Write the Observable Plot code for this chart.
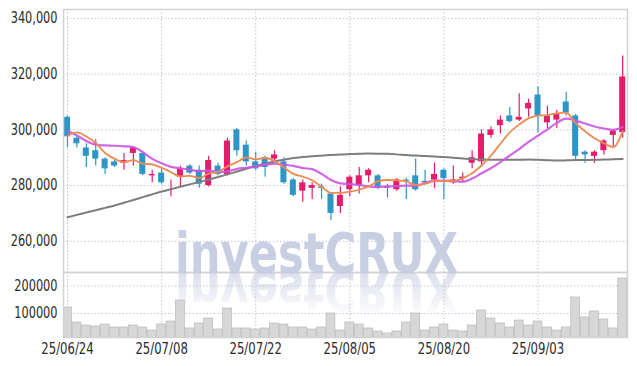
<!DOCTYPE html>
<html><head><meta charset="utf-8">
<script src="https://cdn.jsdelivr.net/npm/d3@7"></script>
<script src="https://cdn.jsdelivr.net/npm/@observablehq/plot@0.6"></script>
<style>
html,body{margin:0;padding:0;background:#fff;}
#wrap{position:relative;width:637px;height:366px;overflow:hidden;}
#wrap > svg{position:absolute;left:0;}
</style></head><body><div id="wrap"></div>
<script>
const dates = ["25/06/24","25/06/25","25/06/26","25/06/27","25/06/30","25/07/01","25/07/02","25/07/03","25/07/04","25/07/07",
"25/07/08","25/07/09","25/07/10","25/07/11","25/07/14","25/07/15","25/07/16","25/07/17","25/07/18","25/07/21",
"25/07/22","25/07/23","25/07/24","25/07/25","25/07/28","25/07/29","25/07/30","25/07/31","25/08/01","25/08/04",
"25/08/05","25/08/06","25/08/07","25/08/08","25/08/11","25/08/12","25/08/13","25/08/14","25/08/18","25/08/19",
"25/08/20","25/08/21","25/08/22","25/08/25","25/08/26","25/08/27","25/08/28","25/08/29","25/09/01","25/09/02",
"25/09/03","25/09/04","25/09/05","25/09/08","25/09/09","25/09/10","25/09/11","25/09/12","25/09/15","25/09/16"];
const open = [304500,297000,293500,292500,289500,288500,288000,291500,291500,283500,
284500,281500,283000,287000,285500,280000,287000,284000,300000,294500,
288500,290000,289500,288500,282000,278000,279000,279500,277000,272500,
278500,280000,283500,283500,279500,278500,282000,283500,281500,282000,
285500,281000,282500,288000,288500,298000,301500,305000,303500,307500,
312500,302500,303500,310000,305000,292000,290500,292500,298000,299000];
const high = [305000,297500,295000,296500,290000,289000,291500,294000,292000,285500,
286000,282000,287000,287500,287000,290500,288000,297000,300500,296000,
292000,290500,292500,290000,282500,282000,281000,280500,277500,279500,
283500,286500,286000,284000,280500,282500,282500,289500,285500,288000,
286000,287000,284500,292500,300000,301000,305000,308000,313000,311000,
315500,308500,307000,313500,305500,292500,292500,296500,300000,326500];
const low = [293500,293500,286500,287000,284000,286500,285500,287000,283500,281000,
280500,276000,279500,284000,279000,279500,283500,283500,290500,287000,
285500,283000,288500,280500,276000,274000,275000,275000,267500,270000,
276000,277000,281000,278500,275500,278000,275000,278000,280500,279000,
275000,280500,281000,286000,286500,297000,298500,302500,303000,304500,
299000,300500,300500,305000,289000,288000,288000,291000,294000,297000];
const close = [297500,295000,290500,289500,286000,287000,289000,293500,284000,284000,
281000,281500,286000,284500,280500,289000,284000,296000,292500,288500,
286000,286500,291000,281000,276500,281000,280000,279000,270000,276500,
283000,283500,285500,279000,279000,282000,281500,278500,281000,284000,
282500,282000,283000,290000,298500,300000,303500,303000,304500,309500,
305000,305000,305500,306000,290500,291000,292000,296000,299500,319000];
const volume = [121700,67400,56500,52900,60100,49300,49300,56500,49300,38400,
60100,71000,147100,45700,63800,81900,42000,118100,45700,45700,
42000,45700,63800,60100,49300,49300,42000,49300,100000,38400,
67400,60100,45700,34800,27500,34800,67400,100000,38400,49300,
60100,38400,34800,56500,110900,81900,63800,49300,74600,56500,
71000,49300,38400,49300,158000,85500,107200,78300,45700,226800];
const ma5 = [297900,299100,297600,295300,291700,289600,288500,289100,287900,287600,
286400,284800,283300,283500,282700,284300,284900,286900,288400,290100,
289400,289900,288800,286500,284200,283200,281900,279600,277400,277400,
277800,278500,279700,281500,282000,281900,281500,280200,280600,281600,
281600,281700,282600,284400,287200,290700,295000,299100,301900,304100,
305100,305300,305900,306200,302400,299500,297000,295200,293800,299600];
const ma10 = [299600,298000,296000,294700,294400,294300,294100,293800,292000,289600,
288000,286700,286200,285700,285100,285400,284900,285100,286000,286400,
286900,287400,287900,287500,287100,286300,285900,284200,282000,280800,
280500,280200,279700,279500,279700,279800,280000,279900,281000,281800,
281800,281600,281400,282500,284400,286200,288400,290800,293100,295700,
297900,300200,302500,304000,303300,302300,301200,300500,300000,301000];
const ma60 = [268620,269490,270310,271170,272000,272820,273830,274830,275840,276840,
277850,278710,279570,280430,281260,282160,283060,284020,285030,286030,
287000,287830,288620,289270,289880,290240,290520,290740,290950,291130,
291310,291420,291490,291460,291380,291200,290950,290770,290590,290420,
290240,289980,289700,289520,289340,289270,289230,289230,289230,289340,
289230,289120,288980,289050,289160,289200,289230,289340,289410,289520];
const xTicks = [0,10,20,30,40,50];
const priceTicks = [260000,280000,300000,320000,340000];
const volumeTicks = [100000,200000];
const watermark = "investCRUX";

const UP = "#e31c6c", DOWN = "#2e95c7";
const rows = dates.map((d,i)=>({i, date:d, open:open[i], high:high[i], low:low[i], close:close[i],
  volume:volume[i], ma5:ma5[i], ma10:ma10[i], ma60:ma60[i], col: close[i]>=open[i]?UP:DOWN}));

const font = '"DejaVu Sans Condensed","Liberation Sans Narrow","DejaVu Sans",sans-serif';
const xDomain = [-0.425, 59.51];
const gridStyle = {stroke:"#c4c4d4", strokeOpacity:1, strokeDasharray:"1.5,2"};

const price = Plot.plot({
  width:637, height:272, marginTop:9, marginBottom:0, marginLeft:63, marginRight:10,
  style:{fontFamily:font, fontSize:"15px", color:"#2a2a2a", background:"transparent", overflow:"visible"},
  x:{type:"linear", domain:xDomain, axis:null},
  y:{domain:[248800,343200], axis:null},
  marks:[
    Plot.gridY(priceTicks, gridStyle),
    Plot.gridX(xTicks, gridStyle),
    Plot.axisY(priceTicks, {tickSize:0, tickPadding:6, tickFormat:d3.format(","), fontSize:15, label:null}),
    Plot.ruleX(rows, {x:"i", y1:"low", y2:"high", stroke:"col", strokeWidth:1.2}),
    Plot.rect(rows, {x1:d=>d.i-0.32, x2:d=>d.i+0.32, y1:d=>Math.min(d.open,d.close), y2:d=>Math.max(d.open,d.close), fill:"col"}),
    Plot.line(rows, {x:"i", y:"ma60", stroke:"#7d7d7d", strokeWidth:2, curve:"monotone-x"}),
    Plot.line(rows, {x:"i", y:"ma10", stroke:"#cb55e2", strokeWidth:2.2, strokeOpacity:0.9, curve:"monotone-x"}),
    Plot.line(rows, {x:"i", y:"ma5", stroke:"#ef8a52", strokeWidth:1.8, curve:"monotone-x"}),
    Plot.frame({stroke:"#d2d2d2", strokeWidth:1.5})
  ]
});

const vol = Plot.plot({
  width:637, height:94, marginTop:0, marginBottom:29, marginLeft:63, marginRight:10,
  style:{fontFamily:font, fontSize:"15px", color:"#2a2a2a", background:"transparent", overflow:"visible"},
  x:{type:"linear", domain:xDomain, axis:null},
  y:{domain:[13000,248600], axis:null},
  marks:[
    Plot.gridY(volumeTicks, gridStyle),
    Plot.gridX(xTicks, gridStyle),
    Plot.rectY(rows, {x1:d=>d.i-0.47, x2:d=>d.i+0.47, y:"volume", fill:"#d7d7d7", stroke:"#b9b9b9", strokeWidth:0.7, clip:true}),
    Plot.axisY(volumeTicks, {tickSize:0, tickPadding:6, tickFormat:d=>String(d), fontSize:15, label:null}),
    Plot.axisX(xTicks, {tickSize:0, tickPadding:6, tickFormat:i=>dates[i], fontSize:15, label:null}),
    Plot.frame({stroke:"#d2d2d2", strokeWidth:1.5})
  ]
});

// narrow the tick labels to the reference's condensed widths
function narrow(svg) {
  d3.select(svg).selectAll("g[aria-label$='tick label'] text").each(function() {
    const s = this.textContent;
    const digits = (s.match(/[0-9]/g) || []).length;
    const commas = (s.match(/,/g) || []).length;
    const slashes = (s.match(/\//g) || []).length;
    const w = digits * 7.2 + commas * 3.6 + slashes * 4.6;
    this.setAttribute("textLength", w.toFixed(1));
    this.setAttribute("lengthAdjust", "spacingAndGlyphs");
  });
}
narrow(price); narrow(vol);

const wrap = document.getElementById("wrap");
price.style.top = "0px";
vol.style.top = "272px";
wrap.appendChild(price);
wrap.appendChild(vol);

// watermark overlay
const ov = d3.create("svg").attr("width",637).attr("height",366)
  .style("position","absolute").style("left","0px").style("top","0px").style("pointer-events","none");
const defs = ov.append("defs");
const grad = defs.append("linearGradient").attr("id","fade").attr("gradientUnits","userSpaceOnUse")
  .attr("x1",0).attr("y1",272).attr("x2",0).attr("y2",318);
grad.append("stop").attr("offset",0).attr("stop-color","#fff").attr("stop-opacity",0.75);
grad.append("stop").attr("offset",1).attr("stop-color","#fff").attr("stop-opacity",0);
defs.append("mask").attr("id","m").attr("maskUnits","userSpaceOnUse").attr("maskContentUnits","userSpaceOnUse")
  .attr("x",0).attr("y",272).attr("width",637).attr("height",66)
  .append("rect").attr("x",0).attr("y",272).attr("width",637).attr("height",66).attr("fill","url(#fade)");
const wmAttrs = sel => sel.attr("x",316.5).attr("y",272).attr("text-anchor","middle")
  .attr("font-family",'"DejaVu Sans","Liberation Sans",sans-serif').attr("font-weight","bold")
  .attr("font-size",55).attr("textLength",283).attr("lengthAdjust","spacingAndGlyphs").text(watermark);
ov.append("text").call(wmAttrs).attr("fill","#c6cce2").attr("fill-opacity",0.95);
ov.append("g").attr("mask","url(#m)")
  .append("text").call(wmAttrs).attr("fill","#c3c9de").attr("fill-opacity",0.8)
  .attr("transform","translate(0,544) scale(1,-1)");
wrap.appendChild(ov.node());
</script>
</body></html>
